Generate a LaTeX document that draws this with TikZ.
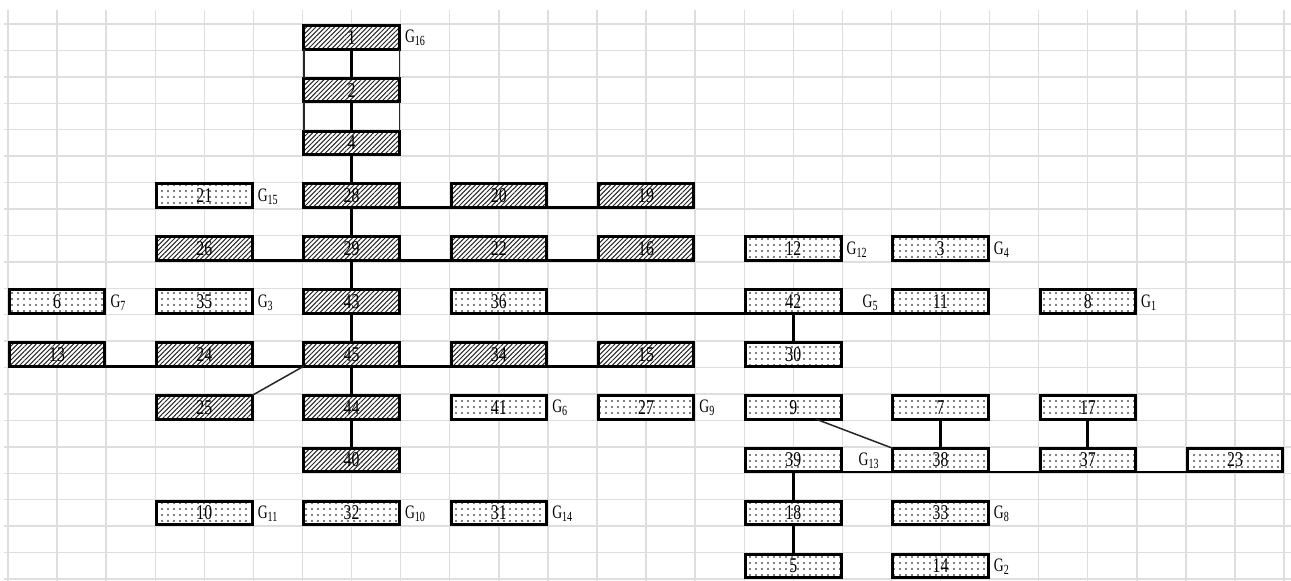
\documentclass[tikz,border=0pt]{standalone}
\usepackage{fontspec}
\setmainfont{Liberation Serif}
\usepackage{graphicx}
\usetikzlibrary{patterns.meta,calc}
\newcommand{\nm}[1]{\scalebox{0.75}[1]{#1}}
\newcommand{\gl}[1]{\scalebox{0.72}[1]{G\raisebox{-0.35ex}{\fontsize{14}{14}\selectfont #1}}}
\tikzset{
 boxbase/.style={draw=black, line width=3pt, minimum width=95.5pt, minimum height=23.6pt,
   inner sep=0pt, outer sep=0pt, font=\fontsize{21}{21}\selectfont, preaction={fill=white}},
 hbox/.style={boxbase, pattern={Lines[angle=45,distance=3.3pt,line width=1pt]}, pattern color=black!85},
 dbox/.style={boxbase, pattern={Dots[distance=6pt,radius=0.8pt]}, pattern color=black},
 glab/.style={anchor=west, inner sep=0pt, font=\fontsize{19}{19}\selectfont, xshift=5.5pt, yshift=-1pt},
 bus/.style={line width=2.8pt, black},
 fineline/.style={line width=1.5pt, black!85},
 gridline/.style={line width=1.4pt, black!13},
}
\begin{document}
\begin{tikzpicture}[x=49.08pt, y=-26.43pt]
\useasboundingbox[fill=white] (-8pt,24pt) rectangle (1283pt,-557pt);
% grid
\foreach \k in {0,...,26} \draw[gridline] (\k,-0.53) -- (\k,21.1);
\foreach \k in {0,...,21} \draw[gridline] (-0.08,\k) -- (26.2,\k);
% row 0,2,4
\node[hbox] (n1) at (7,0.5) {\nm{1}};
\node[hbox] (n2) at (7,2.5) {\nm{2}};
\node[hbox] (n4) at (7,4.5) {\nm{4}};
% row 6
\node[dbox] (n21) at (4,6.5) {\nm{21}};
\node[hbox] (n28) at (7,6.5) {\nm{28}};
\node[hbox] (n20) at (10,6.5) {\nm{20}};
\node[hbox] (n19) at (13,6.5) {\nm{19}};
% row 8
\node[hbox] (n26) at (4,8.5) {\nm{26}};
\node[hbox] (n29) at (7,8.5) {\nm{29}};
\node[hbox] (n22) at (10,8.5) {\nm{22}};
\node[hbox] (n16) at (13,8.5) {\nm{16}};
\node[dbox] (n12) at (16,8.5) {\nm{12}};
\node[dbox] (n3) at (19,8.5) {\nm{3}};
% row 10
\node[dbox] (n6) at (1,10.5) {\nm{6}};
\node[dbox] (n35) at (4,10.5) {\nm{35}};
\node[hbox] (n43) at (7,10.5) {\nm{43}};
\node[dbox] (n36) at (10,10.5) {\nm{36}};
\node[dbox] (n42) at (16,10.5) {\nm{42}};
\node[dbox] (n11) at (19,10.5) {\nm{11}};
\node[dbox] (n8) at (22,10.5) {\nm{8}};
% row 12
\node[hbox] (n13) at (1,12.5) {\nm{13}};
\node[hbox] (n24) at (4,12.5) {\nm{24}};
\node[hbox] (n45) at (7,12.5) {\nm{45}};
\node[hbox] (n34) at (10,12.5) {\nm{34}};
\node[hbox] (n15) at (13,12.5) {\nm{15}};
\node[dbox] (n30) at (16,12.5) {\nm{30}};
% row 14
\node[hbox] (n25) at (4,14.5) {\nm{25}};
\node[hbox] (n44) at (7,14.5) {\nm{44}};
\node[dbox] (n41) at (10,14.5) {\nm{41}};
\node[dbox] (n27) at (13,14.5) {\nm{27}};
\node[dbox] (n9) at (16,14.5) {\nm{9}};
\node[dbox] (n7) at (19,14.5) {\nm{7}};
\node[dbox] (n17) at (22,14.5) {\nm{17}};
% row 16
\node[hbox] (n40) at (7,16.5) {\nm{40}};
\node[dbox] (n39) at (16,16.5) {\nm{39}};
\node[dbox] (n38) at (19,16.5) {\nm{38}};
\node[dbox] (n37) at (22,16.5) {\nm{37}};
\node[dbox] (n23) at (25,16.5) {\nm{23}};
% row 18
\node[dbox] (n10) at (4,18.5) {\nm{10}};
\node[dbox] (n32) at (7,18.5) {\nm{32}};
\node[dbox] (n31) at (10,18.5) {\nm{31}};
\node[dbox] (n18) at (16,18.5) {\nm{18}};
\node[dbox] (n33) at (19,18.5) {\nm{33}};
% row 20
\node[dbox] (n5) at (16,20.5) {\nm{5}};
\node[dbox] (n14) at (19,20.5) {\nm{14}};
% G labels
\node[glab] (g16) at (n1.east) {\gl{16}};
\node[glab] (g15) at (n21.east) {\gl{15}};
\node[glab] (g12) at (n12.east) {\gl{12}};
\node[glab] (g4) at (n3.east) {\gl{4}};
\node[glab] (g7) at (n6.east) {\gl{7}};
\node[glab] (g3) at (n35.east) {\gl{3}};
\node[glab, xshift=16pt] (g5) at (n42.east) {\gl{5}};
\node[glab] (g1) at (n8.east) {\gl{1}};
\node[glab] (g6) at (n41.east) {\gl{6}};
\node[glab] (g9) at (n27.east) {\gl{9}};
\node[glab, xshift=12pt] (g13) at (n39.east) {\gl{13}};
\node[glab] (g11) at (n10.east) {\gl{11}};
\node[glab] (g10) at (n32.east) {\gl{10}};
\node[glab] (g14) at (n31.east) {\gl{14}};
\node[glab] (g8) at (n33.east) {\gl{8}};
\node[glab] (g2) at (n14.east) {\gl{2}};
% connectors
\draw[bus] (n1) -- (n2);
\draw[bus] (n2) -- (n4);
\draw[bus] (n4) -- (n28);
\draw[bus] (n28) -- (n29);
\draw[bus] (n29) -- (n43);
\draw[bus] (n43) -- (n45);
\draw[bus] (n45) -- (n44);
\draw[bus] (n44) -- (n40);
\draw[fineline] (n1.south west) -- (n2.north west);
\draw[fineline] (n1.south east) -- (n2.north east);
\draw[fineline] (n2.south west) -- (n4.north west);
\draw[fineline] (n2.south east) -- (n4.north east);
\draw[bus] (n28.south east) -- (n19.south west);
\draw[bus] (n26.south east) -- (n16.south west);
\draw[bus] (n36.south east) -- (n11.south west);
\draw[bus] (n13.south east) -- (n15.south west);
\draw[fineline] (n25.north east) -- (n45.south west);
\draw[bus] (n42) -- (n30);
\draw[fineline] ($(n9.south)!0.47!(n9.south east)$) -- (n38.north west);
\draw[bus] (n39.south east) -- (n23.south west);
\draw[bus] (n7) -- (n38);
\draw[bus] (n17) -- (n37);
\draw[bus] (n39) -- (n18);
\draw[bus] (n18) -- (n5);
\end{tikzpicture}
\end{document}
